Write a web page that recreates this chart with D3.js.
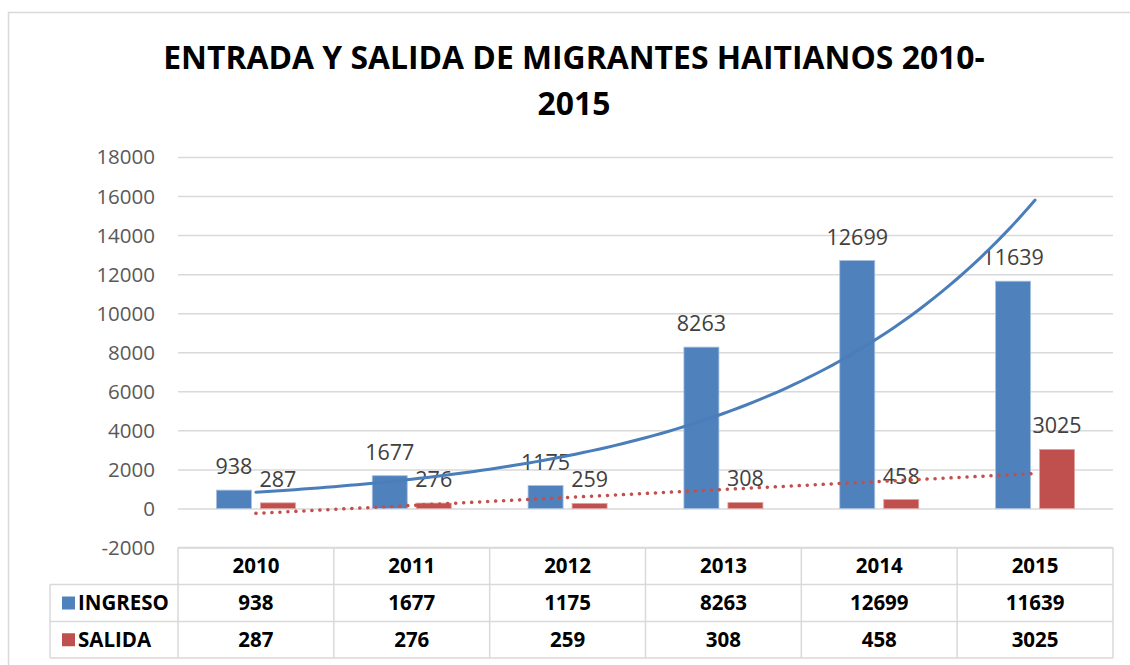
<!DOCTYPE html>
<html>
<head>
<meta charset="utf-8">
<script src="https://cdn.jsdelivr.net/npm/d3@7"></script>
<style>
  html, body { margin: 0; padding: 0; background: #fff; }
  svg { display: block; font-family: "Open Sans", "Liberation Sans", sans-serif; }
</style>
</head>
<body>
<svg id="chart" width="1130" height="665"></svg>
<script>
const titleLines = ["ENTRADA Y SALIDA DE MIGRANTES HAITIANOS 2010-", "2015"];
const years = ["2010", "2011", "2012", "2013", "2014", "2015"];
const seriesNames = ["INGRESO", "SALIDA"];
const ingreso = [938, 1677, 1175, 8263, 12699, 11639];
const salida = [287, 276, 259, 308, 458, 3025];
const yTicks = [-2000, 0, 2000, 4000, 6000, 8000, 10000, 12000, 14000, 16000, 18000];
const colors = { INGRESO: "#4f81bd", SALIDA: "#c0504d" };

const svg = d3.select("#chart");
const W = 1130, H = 665;
const plot = { left: 178, right: 1113, top: 157, bottom: 547.5 };

// outer chart border
svg.append("rect").attr("x", 8.5).attr("y", 12.5).attr("width", W + 10).attr("height", H + 10)
  .attr("fill", "#fff").attr("stroke", "#d9d9d9").attr("stroke-width", 1.5);

// title
const title = svg.append("g");
title.selectAll("text").data(titleLines).join("text")
  .attr("x", 574).attr("y", (d, i) => 69 + i * 46)
  .attr("text-anchor", "middle").attr("font-weight", "bold")
  .attr("font-size", 28).attr("fill", "#000").text(d => d);
const t0 = title.select("text").node();
const len = t0.getComputedTextLength();
const fs = 28 * 822 / len;
title.selectAll("text").attr("font-size", fs);

const x = d3.scaleBand().domain(years).range([plot.left, plot.right]);
const y = d3.scaleLinear().domain([-2000, 18000]).range([plot.bottom, plot.top]);
const barW = 35, gap = 9;
const sub = d3.scaleBand().domain(seriesNames)
  .range([x.bandwidth() / 2 - (barW + gap / 2), x.bandwidth() / 2 + (barW + gap / 2)])
  .paddingInner(gap / (barW + gap));

// gridlines + y labels
const yAxis = d3.axisLeft(y).tickValues(yTicks).tickSize(-(plot.right - plot.left)).tickFormat(d => String(d));
const gy = svg.append("g").attr("transform", `translate(${plot.left},0)`).call(yAxis);
gy.select(".domain").remove();
gy.selectAll(".tick line").attr("stroke", "#d9d9d9").attr("stroke-width", 1.5);
gy.selectAll(".tick text").attr("x", -23).attr("fill", "#595959")
  .attr("font-size", 20.5).attr("font-family", "'Open Sans', sans-serif").attr("dy", "0.34em");

// bars
const data = years.map((yr, i) => ({ year: yr, INGRESO: ingreso[i], SALIDA: salida[i] }));
const groups = svg.append("g").selectAll("g").data(data).join("g")
  .attr("transform", d => `translate(${x(d.year)},0)`);
groups.selectAll("rect").data(d => seriesNames.map(s => ({ s, v: d[s] }))).join("rect")
  .attr("x", d => sub(d.s)).attr("width", sub.bandwidth())
  .attr("y", d => y(d.v)).attr("height", d => y(0) - y(d.v))
  .attr("fill", d => colors[d.s])
  .attr("stroke", d => d.s === "INGRESO" ? "#a7c0de" : "#e0a3a1").attr("stroke-width", 0.8);

// trendlines computed from the data (Excel-style regressions, x = 1..n)
const n = years.length;
const xs = d3.range(1, n + 1);
const mx = d3.mean(xs);
const sxx = d3.sum(xs, v => (v - mx) ** 2);
const lnI = ingreso.map(v => Math.log(v));
const mlI = d3.mean(lnI);
const bI = d3.sum(xs, (v, i) => (v - mx) * lnI[i]) / sxx;
const aI = mlI - bI * mx;
const mS = d3.mean(salida);
const bS = d3.sum(xs, (v, i) => (v - mx) * salida[i]) / sxx;
const aS = mS - bS * mx;

const tx = d3.scaleLinear().domain([1, n]).range([x(years[0]) + x.bandwidth() / 2, x(years[n - 1]) + x.bandwidth() / 2]);
const ts = d3.range(1, n + 0.001, 0.05);
const lineGen = d3.line().x(d => tx(d[0])).y(d => y(d[1]));

svg.append("path").datum(ts.map(t => [t, Math.exp(aI + bI * t)]))
  .attr("d", lineGen).attr("fill", "none").attr("stroke", "#4a7ebb")
  .attr("stroke-width", 3).attr("stroke-linecap", "round");
svg.append("path").datum([[1, aS + bS * 1], [n, aS + bS * n]])
  .attr("d", lineGen).attr("fill", "none").attr("stroke", "#c0504d")
  .attr("stroke-width", 3.5).attr("stroke-linecap", "round").attr("stroke-dasharray", "0.1 7.9");

// data labels
groups.selectAll("text.lbl").data(d => seriesNames.map(s => ({ s, v: d[s] }))).join("text")
  .attr("class", "lbl")
  .attr("x", d => sub(d.s) + sub.bandwidth() / 2)
  .attr("y", d => y(d.v) - 16)
  .attr("text-anchor", "middle").attr("font-size", 21.5).attr("fill", "#404040")
  .text(d => d.v);

// data table
const rowTop = [547.5, 584.5, 621.5, 658];
const tbl = svg.append("g");
const lineC = "#d9d9d9";
tbl.append("line").attr("x1", plot.left).attr("x2", plot.right).attr("y1", rowTop[0]).attr("y2", rowTop[0]).attr("stroke", lineC).attr("stroke-width", 1.5);
[1, 2, 3].forEach(k => {
  tbl.append("line").attr("x1", 50).attr("x2", plot.right).attr("y1", rowTop[k]).attr("y2", rowTop[k]).attr("stroke", lineC).attr("stroke-width", 1.5);
});
tbl.append("line").attr("x1", 50).attr("x2", 50).attr("y1", rowTop[1]).attr("y2", rowTop[3]).attr("stroke", lineC).attr("stroke-width", 1.5);
years.forEach(yr => {
  tbl.append("line").attr("x1", x(yr)).attr("x2", x(yr)).attr("y1", rowTop[0]).attr("y2", rowTop[3]).attr("stroke", lineC).attr("stroke-width", 1.5);
});
tbl.append("line").attr("x1", plot.right).attr("x2", plot.right).attr("y1", rowTop[0]).attr("y2", rowTop[3]).attr("stroke", lineC).attr("stroke-width", 1.5);

const rowMid = k => (rowTop[k] + rowTop[k + 1]) / 2;
const tfs = 20.5;
tbl.selectAll("text.yr").data(years).join("text").attr("class", "yr")
  .attr("x", d => x(d) + x.bandwidth() / 2).attr("y", rowMid(0)).attr("dy", "0.36em")
  .attr("text-anchor", "middle").attr("font-weight", "bold").attr("font-size", tfs).text(d => d);
[ingreso, salida].forEach((arr, k) => {
  tbl.selectAll(`text.v${k}`).data(arr).join("text").attr("class", `v${k}`)
    .attr("x", (d, i) => x(years[i]) + x.bandwidth() / 2).attr("y", rowMid(k + 1)).attr("dy", "0.36em")
    .attr("text-anchor", "middle").attr("font-weight", "bold").attr("font-size", tfs).text(d => d);
  tbl.append("rect").attr("x", 62).attr("y", rowMid(k + 1) - 6.5).attr("width", 13).attr("height", 13)
    .attr("fill", colors[seriesNames[k]]);
  tbl.append("text").attr("x", 78).attr("y", rowMid(k + 1)).attr("dy", "0.36em")
    .attr("font-weight", "bold").attr("font-size", tfs).text(seriesNames[k]);
});
</script>
</body>
</html>
